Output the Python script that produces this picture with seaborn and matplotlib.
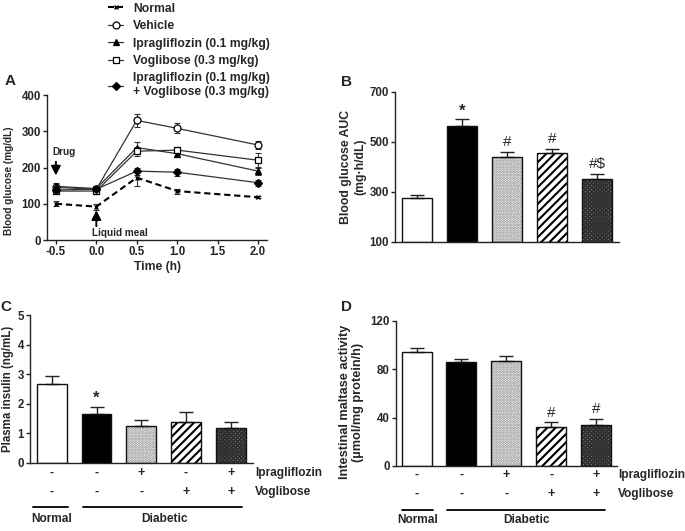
import numpy as np
import pandas as pd
import matplotlib
matplotlib.use("Agg")
import matplotlib.pyplot as plt
import matplotlib.transforms as mtrans
import seaborn as sns

# ---------------- data ----------------
time_h = [-0.5, 0.0, 0.5, 1.0, 2.0]
series_names = ["Normal", "Vehicle", "Ipragliflozin (0.1 mg/kg)", "Voglibose (0.3 mg/kg)",
                "Ipragliflozin (0.1 mg/kg)\n+ Voglibose (0.3 mg/kg)"]
glu_normal = [100, 92, 172, 135, 118]
glu_normal_err = [7, 8, 22, 7, 3]
glu_vehicle = [145, 140, 330, 308, 262]
glu_vehicle_err = [8, 8, 17, 14, 12]
glu_ipra = [148, 142, 255, 238, 190]
glu_ipra_err = [8, 6, 15, 10, 12]
glu_vogli = [135, 135, 245, 248, 220]
glu_vogli_err = [8, 8, 12, 8, 20]
glu_combo = [138, 140, 190, 187, 158]
glu_combo_err = [8, 6, 10, 10, 8]

groups = ["Normal", "Vehicle", "Ipragliflozin", "Voglibose", "Ipragliflozin + Voglibose"]
auc = [275, 565, 439, 455, 353]
auc_err = [15, 27, 22, 18, 18]
auc_sig = ["", "*", "#", "#", "#$"]
insulin = [2.65, 1.65, 1.25, 1.39, 1.16]
insulin_err = [0.27, 0.25, 0.19, 0.33, 0.23]
insulin_sig = ["", "*", "", "", ""]
maltase = [93.8, 85.9, 86.4, 32.5, 34.1]
maltase_err = [3.3, 2.5, 4.4, 3.5, 4.7]
maltase_sig = ["", "", "", "#", "#"]
ipra_sign = ["-", "-", "+", "-", "+"]
vogli_sign = ["-", "-", "-", "+", "+"]

# ---------------- style ----------------
sns.set_style("ticks")
plt.rcParams["font.family"] = ["Liberation Sans", "DejaVu Sans"]
plt.rcParams["font.weight"] = "bold"
plt.rcParams["axes.labelweight"] = "bold"
plt.rcParams["hatch.linewidth"] = 1.5

W, H = 685, 531
fig = plt.figure(figsize=(W / 100, H / 100), dpi=100)

TICK = 8.3
TAB = 8.6

def px_axes(l, t, r, b):
    return fig.add_axes([l / W, 1 - b / H, (r - l) / W, (b - t) / H])

def style_axes(ax):
    sns.despine(ax=ax)
    for s in ("left", "bottom"):
        ax.spines[s].set_linewidth(1.0)
        ax.spines[s].set_color("#222222")
    ax.tick_params(direction="out", length=3, width=1, labelsize=TICK, color="#222222", pad=1.5)
    for lab in ax.get_yticklabels() + ax.get_xticklabels():
        lab.set_fontweight("bold")

def ylabel_at(ax, right_px, frac):
    tr = mtrans.blended_transform_factory(fig.transFigure, ax.transAxes)
    ax.yaxis.set_label_coords(right_px / W, frac, transform=tr)

# ---------------- panel A ----------------
axA = px_axes(47, 95, 267, 240)
styles = [
    dict(color="black", ls=(0, (3.0, 1.8)), lw=1.5, marker="x", mfc="black", ms=3.5, mew=1.0),
    dict(color="#333333", ls="-", lw=0.9, marker="o", mfc="white", ms=5, mew=0.9),
    dict(color="#333333", ls="-", lw=0.9, marker="^", mfc="black", ms=5, mew=0.9),
    dict(color="#333333", ls="-", lw=0.9, marker="s", mfc="white", ms=4.6, mew=0.9),
    dict(color="#333333", ls="-", lw=0.9, marker="D", mfc="black", ms=4.2, mew=0.9),
]
series_vals = [glu_normal, glu_vehicle, glu_ipra, glu_vogli, glu_combo]
series_errs = [glu_normal_err, glu_vehicle_err, glu_ipra_err, glu_vogli_err, glu_combo_err]
handles = []
for name, vals, errs, st in zip(series_names, series_vals, series_errs, styles):
    sns.lineplot(x=time_h, y=vals, ax=axA, color=st["color"], linestyle=st["ls"], lw=st["lw"],
                 marker=st["marker"], markerfacecolor=st["mfc"], markeredgecolor="black",
                 markersize=st["ms"], markeredgewidth=st["mew"], zorder=3, legend=False)
    ln = axA.lines[-1]
    handles.append(ln)
    axA.errorbar(time_h, vals, yerr=errs, fmt="none", ecolor="#333333", elinewidth=0.8,
                 capsize=2.3, capthick=0.8, zorder=2)
if axA.get_legend() is not None:
    axA.get_legend().remove()
axA.set_xlim(-0.61, 2.11)
axA.set_ylim(0, 400)
axA.set_xticks([-0.5, 0.0, 0.5, 1.0, 1.5, 2.0])
axA.set_xticklabels(["-0.5", "0.0", "0.5", "1.0", "1.5", "2.0"])
axA.set_yticks([0, 100, 200, 300, 400])
axA.set_xlabel("Time (h)", fontsize=8.7, labelpad=2)
axA.set_ylabel("Blood glucose (mg/dL)", fontsize=7.2)
ylabel_at(axA, 14, 0.41)
style_axes(axA)
arrow = dict(arrowstyle="-|>,head_length=0.55,head_width=0.28", color="black", lw=1.4,
             mutation_scale=10, shrinkA=0, shrinkB=0)
axA.annotate("", xy=(-0.5, 178), xytext=(-0.5, 216), arrowprops=arrow)
axA.text(-0.54, 243, "Drug", ha="left", va="center", fontsize=7.2, fontweight="bold")
axA.annotate("", xy=(0.0, 82), xytext=(0.0, 38), arrowprops=arrow)
axA.text(-0.05, 19, "Liquid meal", ha="left", va="center", fontsize=7.2, fontweight="bold")

fig.legend(handles=handles, labels=series_names, loc="upper left",
           bbox_to_anchor=(108 / W, 0.995), frameon=False, handlelength=1.25,
           handletextpad=0.8, labelspacing=0.45, borderpad=0.0, borderaxespad=0,
           prop={"weight": "bold", "size": 8.7})

# ---------------- bar helpers ----------------
faces = ["white", "black", "white", "white", "#a0a0a0"]
hatches = [None, None, "......", "////", "xxxxxxxx"]
hatch_cols = ["black", "black", "#8a8a8a", "black", "#303030"]
BW = 0.667

def draw_bars(ax, vals, errs, sig, ylo):
    df = pd.DataFrame({"group": groups, "value": vals})
    sns.barplot(data=df, x="group", y="value", ax=ax, width=BW, color="white",
                errorbar=None, saturation=1, linewidth=0)
    for p, fc, h, hc in zip(ax.patches, faces, hatches, hatch_cols):
        p.set_facecolor(fc)
        p.set_edgecolor(hc)
        p.set_linewidth(0)
        if h:
            p.set_hatch(h)
    x = np.arange(len(vals))
    ax.bar(x, np.array(vals) - ylo, bottom=ylo, width=BW, fill=False, edgecolor="#111111",
           linewidth=1.0, zorder=3)
    ax.errorbar(x, vals, yerr=[np.zeros(len(vals)), errs], fmt="none", ecolor="#222222",
                elinewidth=1.0, capsize=4.8, capthick=1.0, zorder=2)
    for xi, v, e, s in zip(x, vals, errs, sig):
        if s:
            ax.annotate(s, xy=(xi, v + e), xytext=(0, 0.5 if s == "*" else 2),
                        textcoords="offset points", ha="center", va="bottom",
                        fontsize=12 if s == "*" else 11, fontweight="bold" if s == "*" else "normal",
                        family=["Liberation Sans", "DejaVu Sans"])
    ax.set_xticks([])
    ax.set_xlabel("")

def draw_table(ax, y_ipra, y_vogli, y_line, y_lab, lab_x, normal_span, diab_span, diab_x, norm_x):
    tr = mtrans.blended_transform_factory(ax.transData, fig.transFigure)
    for i in range(len(groups)):
        ax.text(i, 1 - y_ipra / H, ipra_sign[i], transform=tr, ha="center", va="center",
                fontsize=9, fontweight="bold")
        ax.text(i, 1 - y_vogli / H, vogli_sign[i], transform=tr, ha="center", va="center",
                fontsize=9, fontweight="bold")
    fig.text(lab_x / W, 1 - y_ipra / H, "Ipragliflozin", ha="left", va="center",
             fontsize=TAB, fontweight="bold")
    fig.text(lab_x / W, 1 - y_vogli / H, "Voglibose", ha="left", va="center",
             fontsize=TAB, fontweight="bold")
    for span in (normal_span, diab_span):
        ax.plot(span, [1 - y_line / H] * 2, transform=tr, color="black", lw=1.3, clip_on=False)
    ax.text(norm_x, 1 - y_lab / H, "Normal", transform=tr, ha="center", va="center",
            fontsize=TAB, fontweight="bold")
    ax.text(diab_x, 1 - y_lab / H, "Diabetic", transform=tr, ha="center", va="center",
            fontsize=TAB, fontweight="bold")

# ---------------- panel B ----------------
axB = px_axes(395, 92, 619, 242)
draw_bars(axB, auc, auc_err, auc_sig, 100)
axB.set_xlim(-0.49, 4.49)
axB.set_ylim(100, 700)
axB.set_yticks([100, 300, 500, 700])
axB.set_ylabel("Blood glucose AUC\n(mg\u00b7h/dL)", fontsize=8.8, linespacing=1.2)
ylabel_at(axB, 366, 0.5)
style_axes(axB)
axB.tick_params(axis="x", length=0)

# ---------------- panel C ----------------
axC = px_axes(30, 315, 253, 462.7)
draw_bars(axC, insulin, insulin_err, insulin_sig, 0)
axC.set_xlim(-0.49, 4.5)
axC.set_ylim(0, 5)
axC.set_yticks([0, 1, 2, 3, 4, 5])
axC.set_ylabel("Plasma insulin (ng/mL)", fontsize=8.3)
ylabel_at(axC, 14, 0.5)
style_axes(axC)
axC.tick_params(axis="x", length=0)
draw_table(axC, 472.7, 491.7, 507.3, 519, 255, [-0.43, 0.36], [0.70, 4.26], 2.53, 0.0)

# ---------------- panel D ----------------
axD = px_axes(396, 320.7, 617, 466)
draw_bars(axD, maltase, maltase_err, maltase_sig, 0)
axD.set_xlim(-0.46, 4.47)
axD.set_ylim(0, 120)
axD.set_yticks([0, 40, 80, 120])
axD.set_ylabel("Intestinal maltase activity\n(\u00b5mol/mg protein/h)", fontsize=9.2, linespacing=1.15)
ylabel_at(axD, 364, 0.44)
style_axes(axD)
axD.tick_params(axis="x", length=0)
draw_table(axD, 475, 494, 510, 520, 618, [-0.33, 0.37], [0.68, 4.2], 2.46, 0.03)

# ---------------- panel letters ----------------
for letter, x, y in [("A", 10, 81), ("B", 347, 82), ("C", 6, 307), ("D", 346, 307)]:
    fig.text(x / W, 1 - y / H, letter, ha="center", va="center", fontsize=11, fontweight="bold")

fig.savefig("out.png", dpi=100)
